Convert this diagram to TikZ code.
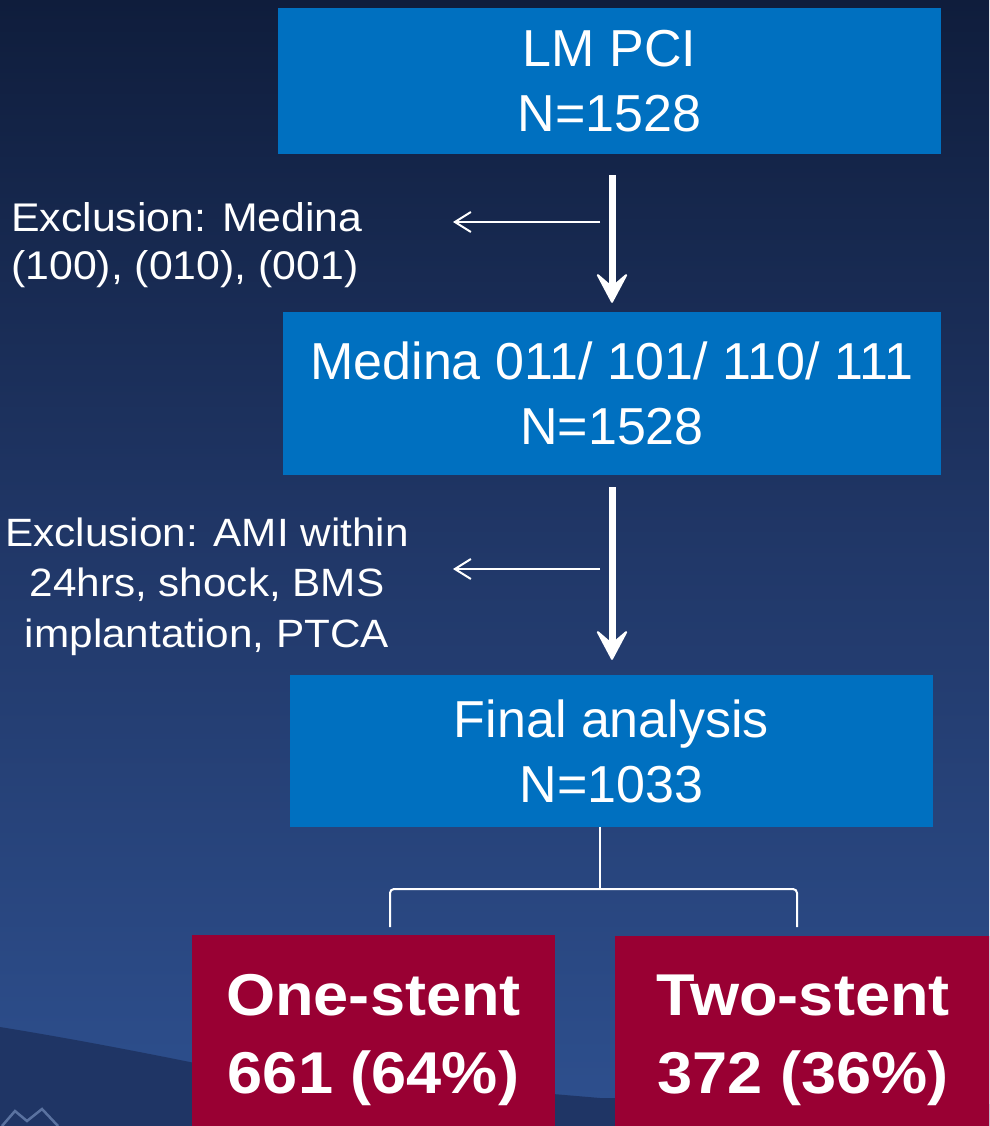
\documentclass[tikz,border=0pt]{standalone}
\usepackage{fontspec}
\setmainfont{Liberation Sans}
\newfontfamily\widefont[FakeStretch=1.07]{Liberation Sans}
\usetikzlibrary{arrows.meta}
\definecolor{boxblue}{HTML}{0070C0}
\definecolor{boxred}{HTML}{990033}
\definecolor{bgA}{HTML}{31559B}
\definecolor{bgB}{HTML}{2E508F}
\definecolor{bgC}{HTML}{213869}
\definecolor{bgD}{HTML}{0F1D3C}
\definecolor{bgE}{HTML}{0A1730}
\definecolor{hill}{HTML}{1F3565}
\definecolor{peak}{HTML}{5A72A0}
\pgfdeclareverticalshading{bgshade}{100bp}{color(0bp)=(bgA); color(25bp)=(bgB); color(50bp)=(bgC); color(75bp)=(bgD); color(100bp)=(bgE)}
\begin{document}
\begin{tikzpicture}[x=1pt,y=-1pt,
  bluebox/.style={fill=boxblue, text=white, inner sep=0pt, align=center,
    font={\fontsize{52pt}{65pt}\selectfont}},
  redbox/.style={fill=boxred, text=white, inner sep=0pt, align=center,
    font={\widefont\fontsize{59pt}{78pt}\selectfont\bfseries}},
  exnote/.style={text=white, inner sep=0pt, font={\widefont\fontsize{40pt}{48pt}\selectfont}},
  bigarrow/.style={draw=white, line width=7pt,
    -{Stealth[length=33pt, width=35pt, inset=15pt, round, line width=2pt]}},
  smallarrow/.style={draw=white, line width=2pt,
    -{Straight Barb[length=16pt, width=20pt, line width=2pt]}},
  bracket/.style={draw=white, line width=2pt, rounded corners=4pt}]
\clip (0,0) rectangle (989,1126);
\shade[shading=bgshade] (0,0) rectangle (989,1126);
\fill[hill]
  (0,1027) .. controls (80,1040) and (150,1054) .. (200,1064)
  -- (600,1098) -- (989,1104) -- (989,1126) -- (0,1126) -- cycle;
\draw[peak, line width=2.5pt] (2,1126) -- (15,1111) -- (27,1121) -- (42,1109) -- (58,1126);

% boxes
\node[bluebox, minimum width=663pt, minimum height=146pt] (lm) at (609.5,81)
  {LM PCI\\N=1528};
\node[bluebox, minimum width=658pt, minimum height=163pt] (med) at (612,393.5)
  {Medina 011/ 101/ 110/ 111\\N=1528};
\node[bluebox, minimum width=643pt, minimum height=152pt] (fa) at (611.5,751)
  {Final analysis\\N=1033};
\node[redbox, minimum width=363pt, minimum height=210pt] (one) at (373.5,1040)
  {One-stent\\661 (64\%)};
\node[redbox, minimum width=376pt, minimum height=208pt] (two) at (803,1040)
  {Two-stent\\372 (36\%)};

% exclusion notes
\node[exnote, align=left, anchor=west] (ex1) at (11,245)
  {Exclusion: Medina\\(100), (010), (001)};
\node[exnote, align=center, font={\widefont\fontsize{39.5pt}{50.5pt}\selectfont}] (ex2) at (207,586.6)
  {Exclusion: AMI within\\24hrs, shock, BMS\\implantation, PTCA};

% main flow arrows
\coordinate (ax) at (612,0);
\draw[bigarrow, shorten <=21pt, shorten >=9pt] (lm.south -| ax) -- (med.north -| ax);
\draw[bigarrow, shorten <=12pt, shorten >=15pt] (med.south -| ax) -- (fa.north -| ax);

% exclusion side arrows
\coordinate (s1) at (600,222);
\coordinate (s2) at (600,569);
\coordinate (t1) at (453,222);
\coordinate (t2) at (453,569);
\draw[smallarrow] (s1) -- (t1);
\draw[smallarrow] (s2) -- (t2);

% split bracket
\coordinate (split) at (600,889);
\coordinate (lleg) at (390,927);
\coordinate (rleg) at (797,927);
\draw[bracket] (fa.south -| split) -- (split);
\draw[bracket] (lleg) -- (lleg |- split) -- (rleg |- split) -- (rleg);
\end{tikzpicture}
\end{document}
